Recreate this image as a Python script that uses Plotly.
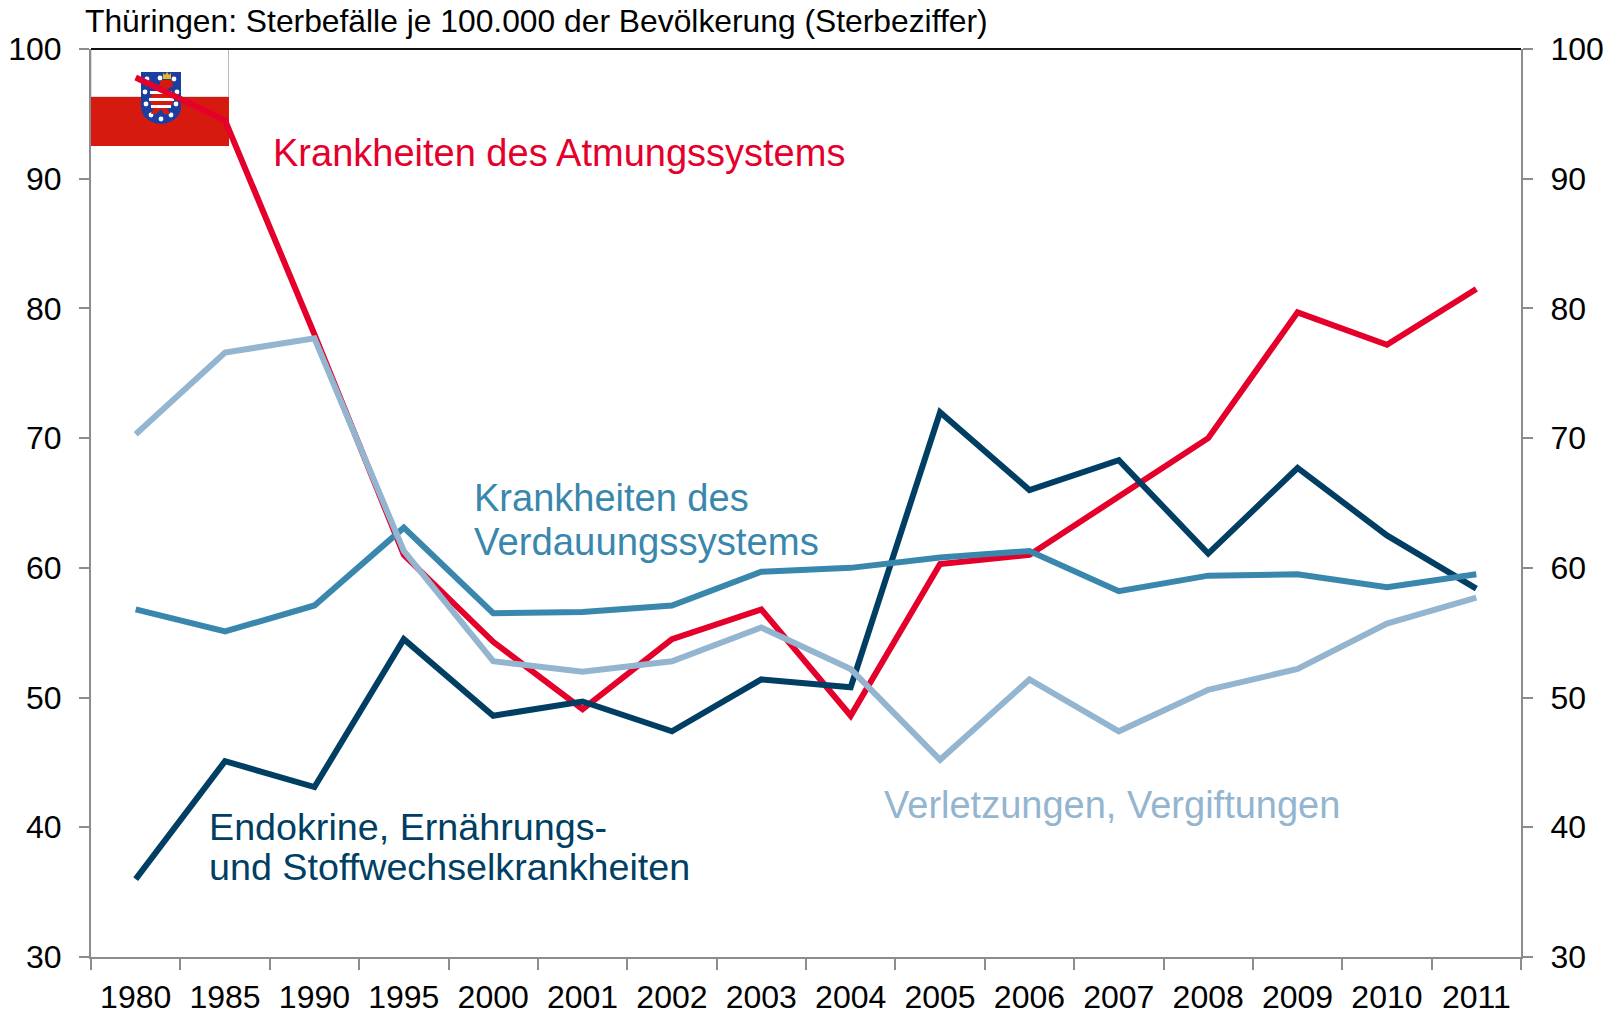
import base64
import plotly.graph_objects as go

years = ["1980","1985","1990","1995","2000","2001","2002","2003","2004","2005","2006","2007","2008","2009","2010","2011"]
atmung = [97.8,94.5,78.0,61.0,54.3,49.1,54.5,56.8,48.6,60.3,61.0,65.5,70.0,79.7,77.2,81.5]
endokrin = [36.0,45.1,43.1,54.5,48.6,49.7,47.4,51.4,50.8,72.0,66.0,68.3,61.1,67.7,62.5,58.4]
verdauung = [56.8,55.1,57.1,63.1,56.5,56.6,57.1,59.7,60.0,60.8,61.3,58.2,59.4,59.5,58.5,59.5]
verletzung = [70.3,76.6,77.7,61.3,52.8,52.0,52.8,55.4,52.2,45.2,51.4,47.4,50.6,52.2,55.7,57.7]
y_ticks = [30,40,50,60,70,80,90,100]

RED, DARK, TEAL, LIGHT = "#E4002B", "#003F63", "#3A87AE", "#94B5CF"
GREY = "#8C8C8C"
W, H = 1617, 1014
L, R, T, B = 91, 1521, 49, 957

stars = [(6,7),(19,6),(33,7),(4,20),(36,20),(5,32),(35,32),(10,43),(20,47),(30,43)]
star_svg = "".join(f'<circle cx="{x}" cy="{y}" r="2.4" fill="#fff"/>' for x,y in stars)
flag = f'''<svg xmlns="http://www.w3.org/2000/svg" width="138" height="97" viewBox="0 0 138 97">
<rect x="0" y="0" width="137.5" height="48" fill="#fff" stroke="#bbb" stroke-width="1"/>
<rect x="0" y="48" width="138" height="49" fill="#D71A0F"/>
<g transform="translate(50,23)">
<path d="M0 0H40V34C40 46 30 51 20 52C10 51 0 46 0 34Z" fill="#1B3FA0"/>
{star_svg}
<path d="M22 1l2 2 2-3 2 3 2-2v6h-8z" fill="#E8B820"/>
<path d="M20 8h11l1 6-6 3 7 6-2 11-5 2 3 6h-6l-3-5-5 5H10l3-7-4-5 2-9 6-4z" fill="#D71A0F"/>
<path d="M9 19h22v3H9zM8 26h25v3H8zM10 33h20v3H10z" fill="#fff"/>
</g></svg>'''
flag_uri = "data:image/svg+xml;base64," + base64.b64encode(flag.encode()).decode()

fig = go.Figure()
line = dict(width=6, shape="linear")
fig.add_trace(go.Scatter(x=years, y=atmung, mode="lines", name="Krankheiten des Atmungssystems", line=dict(color=RED, **line)))
fig.add_trace(go.Scatter(x=years, y=endokrin, mode="lines", name="Endokrine, Ernährungs- und Stoffwechselkrankheiten", line=dict(color=DARK, **line)))
fig.add_trace(go.Scatter(x=years, y=verdauung, mode="lines", name="Krankheiten des Verdauungssystems", line=dict(color=TEAL, **line)))
fig.add_trace(go.Scatter(x=years, y=verletzung, mode="lines", name="Verletzungen, Vergiftungen", yaxis="y2", line=dict(color=LIGHT, **line)))

font = dict(family="Liberation Sans, Arial, sans-serif", color="#000000")
yaxis_common = dict(range=[30,100], tickmode="array", tickvals=y_ticks, ticks="outside", ticklen=10, tickwidth=2,
                    tickcolor=GREY, linecolor=GREY, linewidth=2, showline=True, showgrid=False, zeroline=False,
                    tickfont=dict(size=32, **font), ticklabelstandoff=11, automargin=False)

def label(text, x, y, color, size=38):
    return dict(text=text, xref="paper", yref="paper", x=(x-L)/(R-L), y=(B-y)/(B-T), xanchor="left", yanchor="middle",
                align="left", showarrow=False, font=dict(family=font["family"], size=size, color=color))

fig.update_layout(
    width=W, height=H, autosize=False, paper_bgcolor="#fff", plot_bgcolor="#fff", showlegend=False,
    margin=dict(l=L, r=W-R, t=T, b=H-B, pad=0, autoexpand=False),
    title=dict(text="Thüringen: Sterbefälle je 100.000 der Bevölkerung (Sterbeziffer)", x=85/W, xanchor="left",
               y=1-21/H, yanchor="middle", font=dict(size=31.8, **font)),
    xaxis=dict(type="category", categoryorder="array", categoryarray=years, range=[-0.5,15.5], tickson="boundaries",
               ticks="outside", ticklen=11, tickwidth=2, tickcolor=GREY, linecolor=GREY, linewidth=2, showline=True,
               showgrid=False, zeroline=False, tickfont=dict(size=32, **font), ticklabelstandoff=11, automargin=False),
    yaxis=dict(side="left", **yaxis_common),
    yaxis2=dict(side="right", overlaying="y", **yaxis_common),
    images=[dict(source=flag_uri, xref="paper", yref="paper", x=0.0, y=(B-49)/(B-T), sizex=138/(R-L), sizey=97/(B-T),
                 xanchor="left", yanchor="top", sizing="stretch", layer="below")],
    shapes=[dict(type="line", xref="paper", yref="paper", x0=0, x1=1, y0=1, y1=1, line=dict(color="#111111", width=2))],
    annotations=[
        label("Krankheiten des Atmungssystems", 271, 152.6, RED),
        label("Krankheiten des", 472, 498, TEAL),
        label("Verdauungssystems", 472, 541, TEAL, 38.3),
        label("Verletzungen, Vergiftungen", 882, 805, LIGHT),
        label("Endokrine, Ernährungs-", 207, 827, DARK, 37.7),
        label("und Stoffwechselkrankheiten", 207, 867, DARK, 37.7),
    ],
)
fig.write_html("out.html", post_script="document.body.style.margin='0';", config=dict(displayModeBar=False))
